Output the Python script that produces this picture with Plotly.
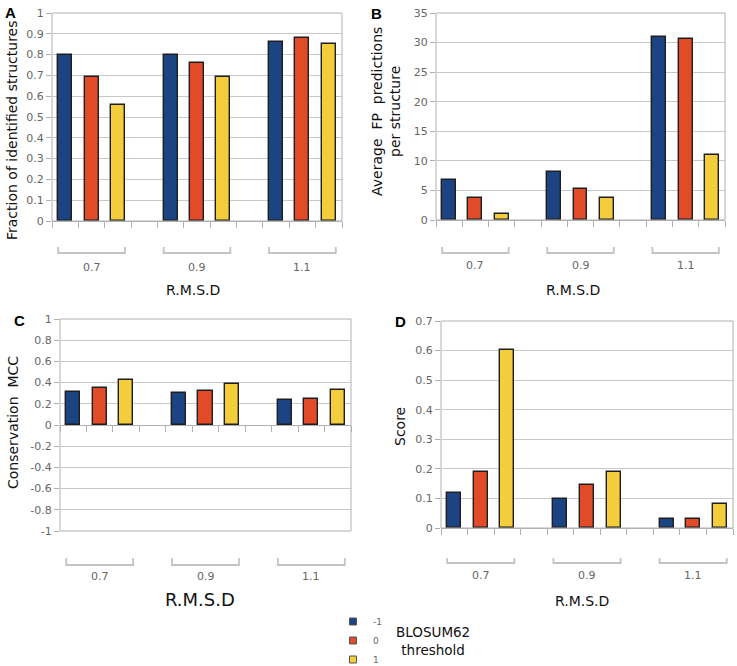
import plotly.graph_objects as go

# ---------------- data ----------------
rmsd_groups = ["0.7", "0.9", "1.1"]
thresholds = ["-1", "0", "1"]

# Panel A: Fraction of identified structures
a_minus1 = [0.80, 0.80, 0.86]
a_zero = [0.69, 0.76, 0.88]
a_plus1 = [0.56, 0.69, 0.85]

# Panel B: Average FP predictions per structure
b_minus1 = [6.8, 8.1, 30.9]
b_zero = [3.7, 5.3, 30.6]
b_plus1 = [1.0, 3.7, 11.0]

# Panel C: Conservation MCC
c_minus1 = [0.31, 0.30, 0.24]
c_zero = [0.35, 0.32, 0.25]
c_plus1 = [0.42, 0.39, 0.33]

# Panel D: Score
d_minus1 = [0.117, 0.099, 0.031]
d_zero = [0.189, 0.146, 0.031]
d_plus1 = [0.602, 0.189, 0.081]

c_tickvals = [-1, -0.8, -0.6, -0.4, -0.2, 0, 0.2, 0.4, 0.6, 0.8, 1]
c_ticktext = ["-1", "-0.8", "-0.6", "-0.4", "-0.2", "0", "0.2", "0.4", "0.6", "0.8", "1"]

# ---------------- styling ----------------
W, H = 737, 666
colors = ["#1c4382", "#e14b28", "#f3cd3c"]
outline = "#1e1e1e"
grid = "#c8c8c8"
tickc = "#666666"
font = "DejaVu Sans"
bar_w = 0.53


def px_x(p):
    return p / W


def px_y(p):
    return 1 - p / H


panels = [
    dict(series=[a_minus1, a_zero, a_plus1], xd=(52, 342), yd=(13, 221),
         yr=[0, 1], dtick=0.1, br=(247, 253), lab=267, rm=290, rmx=193, rmsize=14,
         title="Fraction of identified structures", tx=12, ty=130, letter="A", lx=10, ly=12),
    dict(series=[b_minus1, b_zero, b_plus1], xd=(436, 725), yd=(13, 220),
         yr=[0, 35], dtick=5, br=(247, 253), lab=265, rm=290, rmx=573, rmsize=14,
         title="Average  FP  predictions<br>per structure", tx=386, ty=111, letter="B", lx=376, ly=14),
    dict(series=[c_minus1, c_zero, c_plus1], xd=(60, 351), yd=(319, 531),
         yr=[-1, 1], dtick=None, br=(558, 565), lab=576, rm=599, rmx=200, rmsize=18,
         title="Conservation  MCC", tx=13, ty=423, letter="C", lx=19, ly=320),
    dict(series=[d_minus1, d_zero, d_plus1], xd=(441, 733), yd=(321, 528),
         yr=[0, 0.7], dtick=0.1, br=(558, 563), lab=575, rm=601, rmx=582, rmsize=14,
         title="Score", tx=400, ty=427, letter="D", lx=400, ly=321),
]

fig = go.Figure()
shapes = []
annotations = []
layout_axes = {}

for i, p in enumerate(panels):
    n = "" if i == 0 else str(i + 1)
    xa, ya = "x" + n, "y" + n
    for s, vals in enumerate(p["series"]):
        xs = [4 * g + s + 0.5 for g in range(len(rmsd_groups))]
        fig.add_trace(go.Bar(
            x=xs, y=vals, width=bar_w, xaxis=xa, yaxis=ya,
            marker=dict(color=colors[s], line=dict(color=outline, width=1.4)),
            showlegend=False, name=thresholds[s],
        ))
    xdom = [px_x(p["xd"][0]), px_x(p["xd"][1])]
    ydom = [px_y(p["yd"][1]), px_y(p["yd"][0])]
    xaxis = dict(domain=xdom, range=[0, 11], anchor=ya, tick0=0, dtick=1,
                 ticks="outside", ticklen=6, tickcolor="#b0b0b0", tickwidth=1,
                 showticklabels=False, showgrid=False, zeroline=False,
                 showline=True, linecolor="#b0b0b0", linewidth=1)
    if p["yr"][0] < 0:
        frac = (0 - p["yr"][0]) / (p["yr"][1] - p["yr"][0])
        xaxis.update(anchor="free", position=ydom[0] + frac * (ydom[1] - ydom[0]))
    yaxis = dict(domain=ydom, range=p["yr"], anchor=xa,
                 ticks="outside", ticklen=5, tickcolor="#b0b0b0",
                 showgrid=True, gridcolor=grid, gridwidth=1.2, zeroline=False,
                 showline=False,
                 tickfont=dict(family=font, size=11, color=tickc))
    if p["dtick"] is None:
        yaxis.update(tickmode="array", tickvals=c_tickvals, ticktext=c_ticktext)
    else:
        yaxis.update(tick0=0, dtick=p["dtick"])
    layout_axes["xaxis" + n] = xaxis
    layout_axes["yaxis" + n] = yaxis

    # frame
    shapes.append(dict(type="rect", xref=xa + " domain", yref=ya + " domain",
                       x0=0, x1=1, y0=0, y1=1, line=dict(color="#b0b0b0", width=1),
                       layer="above"))
    # group brackets + labels
    for g, lab in enumerate(rmsd_groups):
        x0 = 4 * g + 0.5 - bar_w / 2
        x1 = 4 * g + 2.5 + bar_w / 2
        yt, yb = px_y(p["br"][0]), px_y(p["br"][1])
        shapes.append(dict(type="path", xref=xa, yref="paper",
                           path=f"M{x0},{yt} L{x0},{yb} L{x1},{yb} L{x1},{yt}",
                           line=dict(color="#c3c3c3", width=1.8)))
        annotations.append(dict(x=4 * g + 1.5, y=px_y(p["lab"]), xref=xa, yref="paper",
                                text=lab, showarrow=False, xanchor="center", yanchor="middle",
                                font=dict(family=font, size=11, color=tickc)))
    annotations.append(dict(x=px_x(p["rmx"]), y=px_y(p["rm"]), xref="paper", yref="paper",
                            text="R.M.S.D", showarrow=False, xanchor="center", yanchor="middle",
                            font=dict(family=font, size=p["rmsize"], color="#111111")))
    annotations.append(dict(x=px_x(p["tx"]), y=px_y(p["ty"]), xref="paper", yref="paper",
                            text=p["title"], showarrow=False, textangle=-90,
                            xanchor="center", yanchor="middle",
                            font=dict(family=font, size=14, color="#111111")))
    annotations.append(dict(x=px_x(p["lx"]), y=px_y(p["ly"]), xref="paper", yref="paper",
                            text="<b>" + p["letter"] + "</b>", showarrow=False,
                            xanchor="center", yanchor="middle",
                            font=dict(family="Liberation Sans", size=15, color="#000000")))

# legend entries (small square swatches)
for s, name in enumerate(thresholds):
    fig.add_trace(go.Scatter(
        x=[None], y=[None], mode="markers", name=name,
        marker=dict(symbol="square", size=7, color=colors[s],
                    line=dict(color="#555555", width=1)),
        showlegend=True,
    ))

annotations.append(dict(x=px_x(433), y=px_y(641), xref="paper", yref="paper",
                        text="BLOSUM62<br>threshold", showarrow=False,
                        xanchor="center", yanchor="middle",
                        font=dict(family=font, size=13.5, color="#111111")))

fig.update_layout(
    width=W, height=H,
    margin=dict(l=0, r=0, t=0, b=0, autoexpand=False),
    paper_bgcolor="white", plot_bgcolor="white",
    bargap=0,
    shapes=shapes, annotations=annotations,
    showlegend=True,
    legend=dict(x=px_x(333), y=px_y(607), xanchor="left", yanchor="top",
                orientation="v", font=dict(family=font, size=9, color=tickc),
                itemwidth=30, tracegroupgap=0, bgcolor="rgba(0,0,0,0)"),
    **layout_axes,
)

fig.write_html("out.html", config={"displayModeBar": False},
               post_script="document.body.style.margin='0';")
